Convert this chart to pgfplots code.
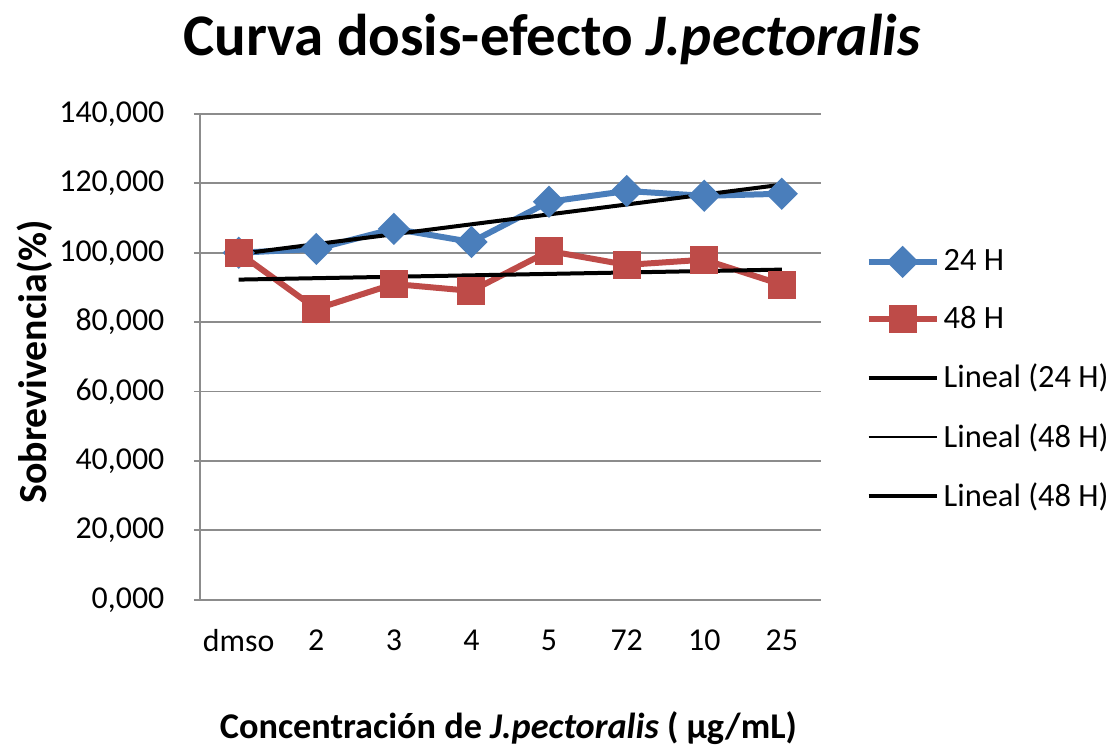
\documentclass[border=0pt]{standalone}
\usepackage{pgfplots}
\pgfplotsset{compat=1.18}
\usepackage{fontspec}
\setmainfont{Carlito}
\definecolor{b24}{HTML}{4A7EBB}
\definecolor{r48}{HTML}{BE4B48}
\definecolor{gridc}{HTML}{8C8C8C}
\begin{document}
\begin{tikzpicture}
\begin{axis}[
  name=ax,
  scale only axis, width=310.5bp, height=243bp,
  xmin=-0.5, xmax=7.5, ymin=0, ymax=140,
  xtick={0,1,2,3,4,5,6,7},
  xticklabels={dmso,2,3,4,5,72,10,25},
  ytick={0,20,40,60,80,100,120,140},
  axis x line=bottom, axis y line=left,
  axis line style={-, draw=gridc, line width=0.9bp},
  ymajorgrids, grid style={draw=gridc, line width=0.9bp},
  x tick style={draw=none},
  y tick style={draw=gridc, line width=0.9bp},
  tick align=outside, major tick length=3bp,
  /pgf/number format/assume math mode=true,
  /pgf/number format/fixed,
  /pgf/number format/fixed zerofill,
  /pgf/number format/precision=3,
  /pgf/number format/use comma,
  /pgf/number format/1000 sep={},
  xticklabel style={font=\fontsize{16}{19}\selectfont, yshift=-8.5bp},
  yticklabel style={font=\fontsize{16}{19}\selectfont, xshift=-11.3bp},
  title={\bfseries Curva dosis-efecto \textit{J.pectoralis}},
  title style={font=\fontsize{29.6}{33}\selectfont, at={(0.567,1.128)}, anchor=center},
  xlabel={\bfseries Concentración de \textit{J.pectoralis} ( µg/mL)},
  xlabel style={font=\fontsize{18.2}{21}\selectfont, at={(0.497,-0.265)}, anchor=center},
  ylabel={\bfseries Sobrevivencia(\%)},
  ylabel style={font=\fontsize{20}{23}\selectfont, at={(-0.266,0.49)}, anchor=center},
  legend style={draw=none, fill=none, at={(1.072,0.453)}, anchor=west,
    font=\fontsize{16.3}{19}\selectfont, row sep=12.3bp, inner sep=0pt},
  legend cell align=left,
  legend image code/.code={\draw[mark repeat=2,mark phase=2] plot coordinates {(0bp,0bp)(17bp,0bp)(34bp,0bp)};},
  legend entries={24 H,48 H,Lineal (24 H),Lineal (48 H),Lineal (48 H)},
]
\addplot[b24, line width=3bp, mark=square*, mark size=4.2bp, mark options={rotate=45, solid, fill=b24}]
  coordinates {(0,100) (1,101.1) (2,106.9) (3,103.1) (4,114.7) (5,117.8) (6,116.4) (7,117.0)};
\addplot[r48, line width=3bp, mark=square*, mark size=5.5bp, mark options={solid, fill=r48}]
  coordinates {(0,100) (1,83.8) (2,91.0) (3,89.0) (4,100.5) (5,96.5) (6,98.0) (7,90.8)};
\addplot[black, line width=2bp, no marks] coordinates {(0,99.63) (7,119.62)};
\addlegendimage{black, line width=1bp}
\addplot[black, line width=2bp, no marks] coordinates {(0,92.26) (7,95.14)};
\end{axis}
\pgfresetboundingbox
\path[use as bounding box] ([shift={(-100bp,-74.5bp)}]ax.south west) rectangle ([shift={(145.25bp,57bp)}]ax.north east);
\end{tikzpicture}
\end{document}
